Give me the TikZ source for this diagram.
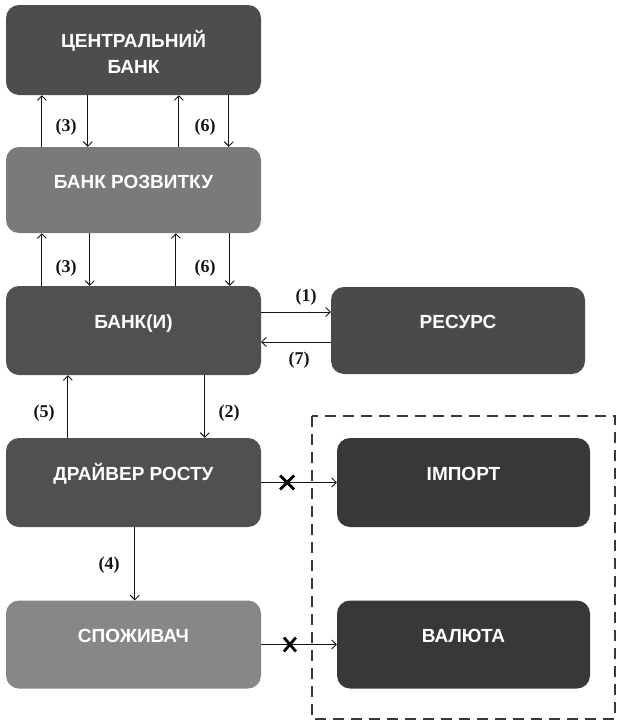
\documentclass[tikz,border=0pt]{standalone}
\usepackage{fontspec}
\setmainfont{Liberation Serif}
\newfontfamily\boxfont{Liberation Sans}
\usetikzlibrary{arrows.meta}
\definecolor{cbcol}{HTML}{4D4D4D}
\definecolor{brcol}{HTML}{7A7A7A}
\definecolor{bicol}{HTML}{505050}
\definecolor{rescol}{HTML}{4A4A4A}
\definecolor{spcol}{HTML}{878787}
\definecolor{excol}{HTML}{383838}
\definecolor{linecol}{HTML}{151515}
\begin{document}
\begin{tikzpicture}[x=1pt,y=-1pt,
  boxbase/.style={rectangle, rounded corners=13pt, draw=none, text=white,
    minimum width=255pt, inner sep=0pt,
    font=\boxfont\bfseries\fontsize{19}{26}\selectfont},
  box/.style={boxbase, text height=14pt, text depth=18pt},
  arr/.style={draw=linecol, line width=0.9pt, -{Straight Barb[length=4.5pt,width=9pt]}},
  lbl/.style={font=\bfseries\fontsize{18}{20}\selectfont, text=linecol, inner sep=0pt},
  xmark/.style={draw=black, line width=2.8pt},
  dashbox/.style={draw=excol, line width=2pt, dash pattern=on 11pt off 7pt}]
\useasboundingbox (0,0) rectangle (620,723);

\node[boxbase, fill=cbcol, minimum height=90pt, align=center, yshift=0pt] (cb) at (133.5,50)
  {\rule{0pt}{20pt}ЦЕНТРАЛЬНИЙ\\БАНК};
\node[box, fill=brcol, minimum height=86pt] (br) at (133.5,190) {БАНК РОЗВИТКУ};
\node[box, fill=bicol, minimum height=89pt] (bi) at (133.5,330.5) {БАНК(И)};
\node[box, fill=rescol, minimum height=87pt, minimum width=254pt] (res) at (458,330.5) {РЕСУРС};
\node[box, fill=bicol, minimum height=89pt] (dr) at (133.5,482.5) {ДРАЙВЕР РОСТУ};
\node[box, fill=spcol, minimum height=88pt] (sp) at (133.5,644.5) {СПОЖИВАЧ};
\node[box, fill=excol, minimum height=89pt, minimum width=253pt] (imp) at (463.5,482.5) {ІМПОРТ};
\node[box, fill=excol, minimum height=88pt, minimum width=253pt] (val) at (463.5,644.5) {ВАЛЮТА};

\draw[dashbox] (312,416) rectangle (615,719);

% CB <-> BR
\draw[arr] ([xshift=36pt]br.north west) -- ([xshift=36pt]cb.south west);
\draw[arr] ([xshift=82pt]cb.south west) -- ([xshift=82pt]br.north west);
\draw[arr] ([xshift=173pt]br.north west) -- ([xshift=173pt]cb.south west);
\draw[arr] ([xshift=223pt]cb.south west) -- ([xshift=223pt]br.north west);
\node[lbl] (l3a) at (66,127) {(3)};
\node[lbl] (l6a) at (205,127) {(6)};

% BR <-> BI
\draw[arr] ([xshift=36pt]bi.north west) -- ([xshift=36pt]br.south west);
\draw[arr] ([xshift=84pt]br.south west) -- ([xshift=84pt]bi.north west);
\draw[arr] ([xshift=170pt]bi.north west) -- ([xshift=170pt]br.south west);
\draw[arr] ([xshift=224pt]br.south west) -- ([xshift=224pt]bi.north west);
\node[lbl] (l3b) at (66,268) {(3)};
\node[lbl] (l6b) at (205,268) {(6)};

% BI <-> RES
\draw[arr] ([yshift=18.5pt]bi.east) -- ([yshift=18.5pt]res.west);
\draw[arr] ([yshift=-11.5pt]res.west) -- ([yshift=-11.5pt]bi.east);
\node[lbl] (l1) at (306,297) {(1)};
\node[lbl] (l7) at (299,360) {(7)};

% BI <-> DR
\draw[arr] ([xshift=62pt]dr.north west) -- ([xshift=62pt]bi.south west);
\draw[arr] ([xshift=199pt]bi.south west) -- ([xshift=199pt]dr.north west);
\node[lbl] (l5) at (44,413) {(5)};
\node[lbl] (l2) at (229,413) {(2)};

% DR -> SP
\draw[arr] ([xshift=129pt]dr.south west) -- ([xshift=129pt]sp.north west);
\node[lbl] (l4) at (109,565) {(4)};

% blocked flows
\draw[arr] (dr.east) -- coordinate[pos=0.342] (x1) (imp.west);
\draw[arr] (sp.east) -- coordinate[pos=0.38] (x2) (val.west);
\draw[xmark] ([xshift=-7pt,yshift=7pt]x1) -- ([xshift=7pt,yshift=-7pt]x1);
\draw[xmark] ([xshift=-7pt,yshift=-7pt]x1) -- ([xshift=7pt,yshift=7pt]x1);
\draw[xmark] ([xshift=-6pt,yshift=7pt]x2) -- ([xshift=6pt,yshift=-7pt]x2);
\draw[xmark] ([xshift=-6pt,yshift=-7pt]x2) -- ([xshift=6pt,yshift=7pt]x2);
\end{tikzpicture}
\end{document}
